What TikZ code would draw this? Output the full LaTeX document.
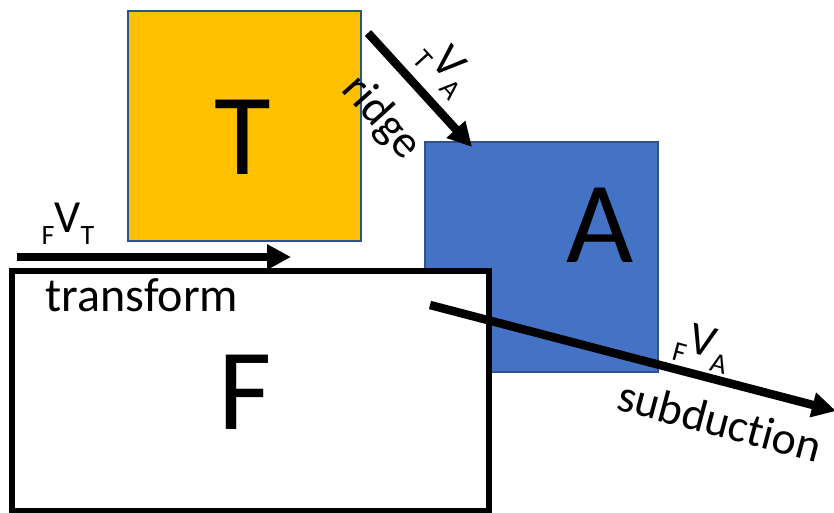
\documentclass[tikz,border=0pt]{standalone}
\usepackage{fontspec}
\setmainfont{Carlito}[Ligatures={NoCommon}]
\usepackage{xcolor}
\usetikzlibrary{arrows.meta}
\definecolor{tgold}{HTML}{FFC000}
\definecolor{ablue}{HTML}{4472C4}
\definecolor{edgeblue}{HTML}{2F528F}
\newcommand\fsz[1]{\fontsize{#1}{#1}\selectfont}
\newcommand\relvel[2]{\raisebox{-12pt}{\fsz{28}#1}{\fsz{46}V}\raisebox{-12pt}{\fsz{28}#2}}

\begin{document}
\begin{tikzpicture}[x=1pt, y=-1pt, >={Triangle[length=24pt,width=24pt]},
  plate/.style={draw=edgeblue, line width=1.5pt, minimum width=233pt, minimum height=230pt},
  letter/.style={inner sep=0pt, font=\fsz{116}},
  vel/.style={->, line width=8.5pt},
  every node/.style={font=\fsz{46}}]
  \useasboundingbox (0,0) rectangle (834,512);
  \node[plate, fill=tgold] (T) at (244.5,126) {};
  \node[plate, fill=ablue] (A) at (541.5,257) {};
  \node[draw, line width=6.5pt, fill=white, minimum width=477pt, minimum height=240pt] (F) at (250.5,391) {};
  \node[letter] (Tname) at (243,137) {T};
  \node[letter] (Aname) at (600,225) {A};
  \node[letter] (Fname) at (245,392) {F};
  \node[inner sep=0pt, font=\fsz{48}] (transform) at (142,295) {transform};
  % velocities
  \coordinate (fvt0) at (17,257);
  \coordinate (fvt1) at (291,257);
  \coordinate (tva0) at (368,33);
  \coordinate (tva1) at (472,147);
  \coordinate (fva0) at (430,305);
  \coordinate (fva1) at (836,411);
  \draw[vel] (fvt0) -- (fvt1);
  \draw[vel] (tva0) -- (tva1);
  \draw[vel] (fva0) -- (fva1);
  \node[inner sep=0pt] (fvt) at (68,224) {\relvel{F}{T}};
  \node[inner sep=0pt, rotate=-48] (tva) at (446,67) {\relvel{T}{A}};
  \node[inner sep=0pt, rotate=-48] (ridge) at (381,118) {ridge};
  \node[inner sep=0pt, rotate=-15] (fva) at (703,347) {\relvel{F}{A}};
  \node[inner sep=0pt, rotate=-15] (subduction) at (720,421) {subduction};
\end{tikzpicture}
\end{document}
